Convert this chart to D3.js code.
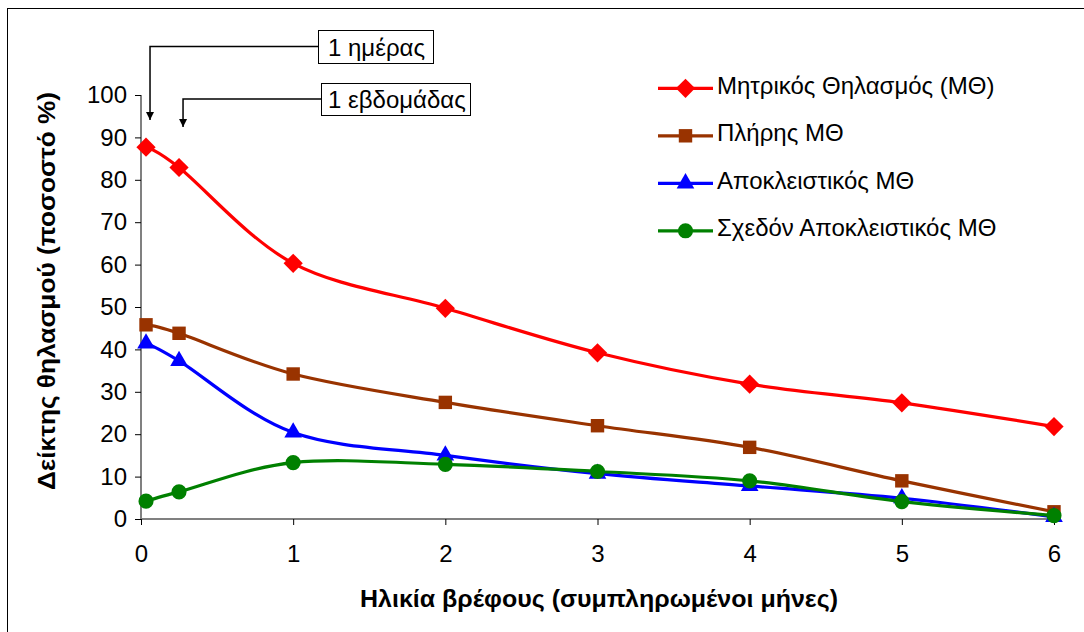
<!DOCTYPE html>
<html><head><meta charset="utf-8">
<script src="https://cdn.jsdelivr.net/npm/d3@7"></script>
<style>body{margin:0;background:#fff;overflow:hidden} text{font-family:"Liberation Sans",Arial,sans-serif;fill:#000}</style>
</head><body><svg id="c" width="1084" height="632"></svg>
<script>
// ---- data ----
const months = [0.033, 0.25, 1, 2, 3, 4, 5, 6];
const seriesNames = ["Μητρικός Θηλασμός (ΜΘ)", "Πλήρης ΜΘ", "Αποκλειστικός ΜΘ", "Σχεδόν Αποκλειστικός ΜΘ"];
const mitrikos = [87.7, 82.9, 60.3, 49.7, 39.2, 31.8, 27.4, 21.8];
const pliris = [45.8, 43.8, 34.2, 27.5, 22.0, 16.9, 9.0, 1.7];
const apokleistikos = [41.4, 37.3, 20.4, 15.0, 10.7, 7.8, 4.9, 0.5];
const sxedon = [4.2, 6.4, 13.3, 12.9, 11.2, 9.0, 4.1, 0.8];
const xTicks = [0, 1, 2, 3, 4, 5, 6];
const yTicks = [0, 10, 20, 30, 40, 50, 60, 70, 80, 90, 100];
const xTitle = "Ηλικία βρέφους (συμπληρωμένοι μήνες)";
const yTitle = "Δείκτης θηλασμού (ποσοστό %)";
const annotations = [{label: "1 ημέρας", at: 0.033}, {label: "1 εβδομάδας", at: 0.25}];

// ---- style ----
const colors = ["#FF0000", "#993300", "#0000FF", "#008000"];
const shapes = ["diamond", "square", "triangle", "circle"];
const allSeries = [mitrikos, pliris, apokleistikos, sxedon];
const FONT = '"Liberation Sans",Arial,sans-serif';

const svg = d3.select("#c");
svg.append("rect").attr("x", 7.5).attr("y", 8.5).attr("width", 1200).attr("height", 700)
  .attr("fill", "#fff").attr("stroke", "#000").attr("stroke-width", 1);

const x = d3.scaleLinear().domain([0, 6]).range([141, 1054]);
const y = d3.scaleLinear().domain([0, 100]).range([519, 95]);

// axes
const yAxis = svg.append("g").attr("transform", "translate(141,0)")
  .call(d3.axisLeft(y).tickValues(yTicks).tickFormat(d3.format("d")).tickSize(6).tickPadding(8));
const xAxis = svg.append("g").attr("transform", "translate(0,519)")
  .call(d3.axisBottom(x).tickValues(xTicks).tickFormat(d3.format("d")).tickSize(6).tickPadding(20));
[yAxis, xAxis].forEach(g => {
  g.attr("font-size", 24).attr("font-family", FONT);
  g.select(".domain").attr("stroke", "#808080").attr("stroke-width", 2);
  g.selectAll(".tick line").attr("stroke", "#000").attr("stroke-width", 1);
  g.selectAll(".tick text").attr("fill", "#000");
});
yAxis.select(".domain").attr("d", `M0,${y(0)}V${y(100)}`);
xAxis.select(".domain").attr("d", `M${x(0)},0H${x(6)}`);

// titles
svg.append("text").attr("x", 599).attr("y", 607).attr("text-anchor", "middle")
  .attr("font-size", 23).attr("font-weight", "bold").attr("textLength", 478).attr("lengthAdjust", "spacingAndGlyphs")
  .text(xTitle);
svg.append("text").attr("transform", "translate(55,291) rotate(-90)").attr("text-anchor", "middle")
  .attr("font-size", 23).attr("font-weight", "bold").attr("textLength", 398).attr("lengthAdjust", "spacingAndGlyphs")
  .text(yTitle);

// marker helper
function marker(g, shape, color, cx, cy) {
  let sym;
  if (shape === "diamond") {
    g.append("path").attr("d", d3.symbol(d3.symbolSquare, 185)())
      .attr("transform", `translate(${cx},${cy}) rotate(45)`).attr("fill", color);
    return;
  }
  if (shape === "square") sym = d3.symbol(d3.symbolSquare, 180);
  if (shape === "triangle") sym = d3.symbol(d3.symbolTriangle, 135);
  if (shape === "circle") sym = d3.symbol(d3.symbolCircle, 180);
  g.append("path").attr("d", sym()).attr("transform", `translate(${cx},${cy})`).attr("fill", color);
}

// lines
const line = d3.line().x(d => x(d[0])).y(d => y(d[1])).curve(d3.curveCatmullRom.alpha(0));
allSeries.forEach((vals, i) => {
  const g = svg.append("g");
  const pts = months.map((m, j) => [m, vals[j]]);
  g.append("path").attr("d", line(pts)).attr("fill", "none").attr("stroke", colors[i]).attr("stroke-width", 3.2);
  pts.forEach(p => marker(g, shapes[i], colors[i], x(p[0]), y(p[1])));
});

// legend
const lg = svg.append("g");
seriesNames.forEach((name, i) => {
  const ly = 88.3 + i * 47.5;
  lg.append("line").attr("x1", 658).attr("x2", 713).attr("y1", ly).attr("y2", ly)
    .attr("stroke", colors[i]).attr("stroke-width", 3.2);
  marker(lg, shapes[i], colors[i], 685.5, ly);
  lg.append("text").attr("x", 717).attr("y", ly + 5.5).attr("font-size", 24).text(name);
});

// annotations
const defs = svg.append("defs");
defs.append("marker").attr("id", "arr").attr("viewBox", "0 0 10 10").attr("refX", 10).attr("refY", 5)
  .attr("markerWidth", 8).attr("markerHeight", 12).attr("markerUnits", "userSpaceOnUse").attr("orient", "auto")
  .append("path").attr("d", "M0,0L10,5L0,10Z").attr("fill", "#000");
const boxes = [{bx: 318, by: 30, bw: 115, bh: 33, pad: 10, tipY: 120}, {bx: 321, by: 83, bw: 149, bh: 32, pad: 7, tipY: 127}];
annotations.forEach((a, i) => {
  const b = boxes[i];
  const ax = x(a.at) + 4;
  const my = b.by + b.bh / 2;
  svg.append("path").attr("d", `M${b.bx},${my}H${ax}V${b.tipY}`).attr("fill", "none")
    .attr("stroke", "#000").attr("stroke-width", 1.5).attr("marker-end", "url(#arr)");
  svg.append("rect").attr("x", b.bx + 0.5).attr("y", b.by + 0.5).attr("width", b.bw).attr("height", b.bh)
    .attr("fill", "#fff").attr("stroke", "#000").attr("stroke-width", 1);
  svg.append("text").attr("x", b.bx + b.pad).attr("y", my + 9).attr("font-size", 24).text(a.label);
});
</script></body></html>
